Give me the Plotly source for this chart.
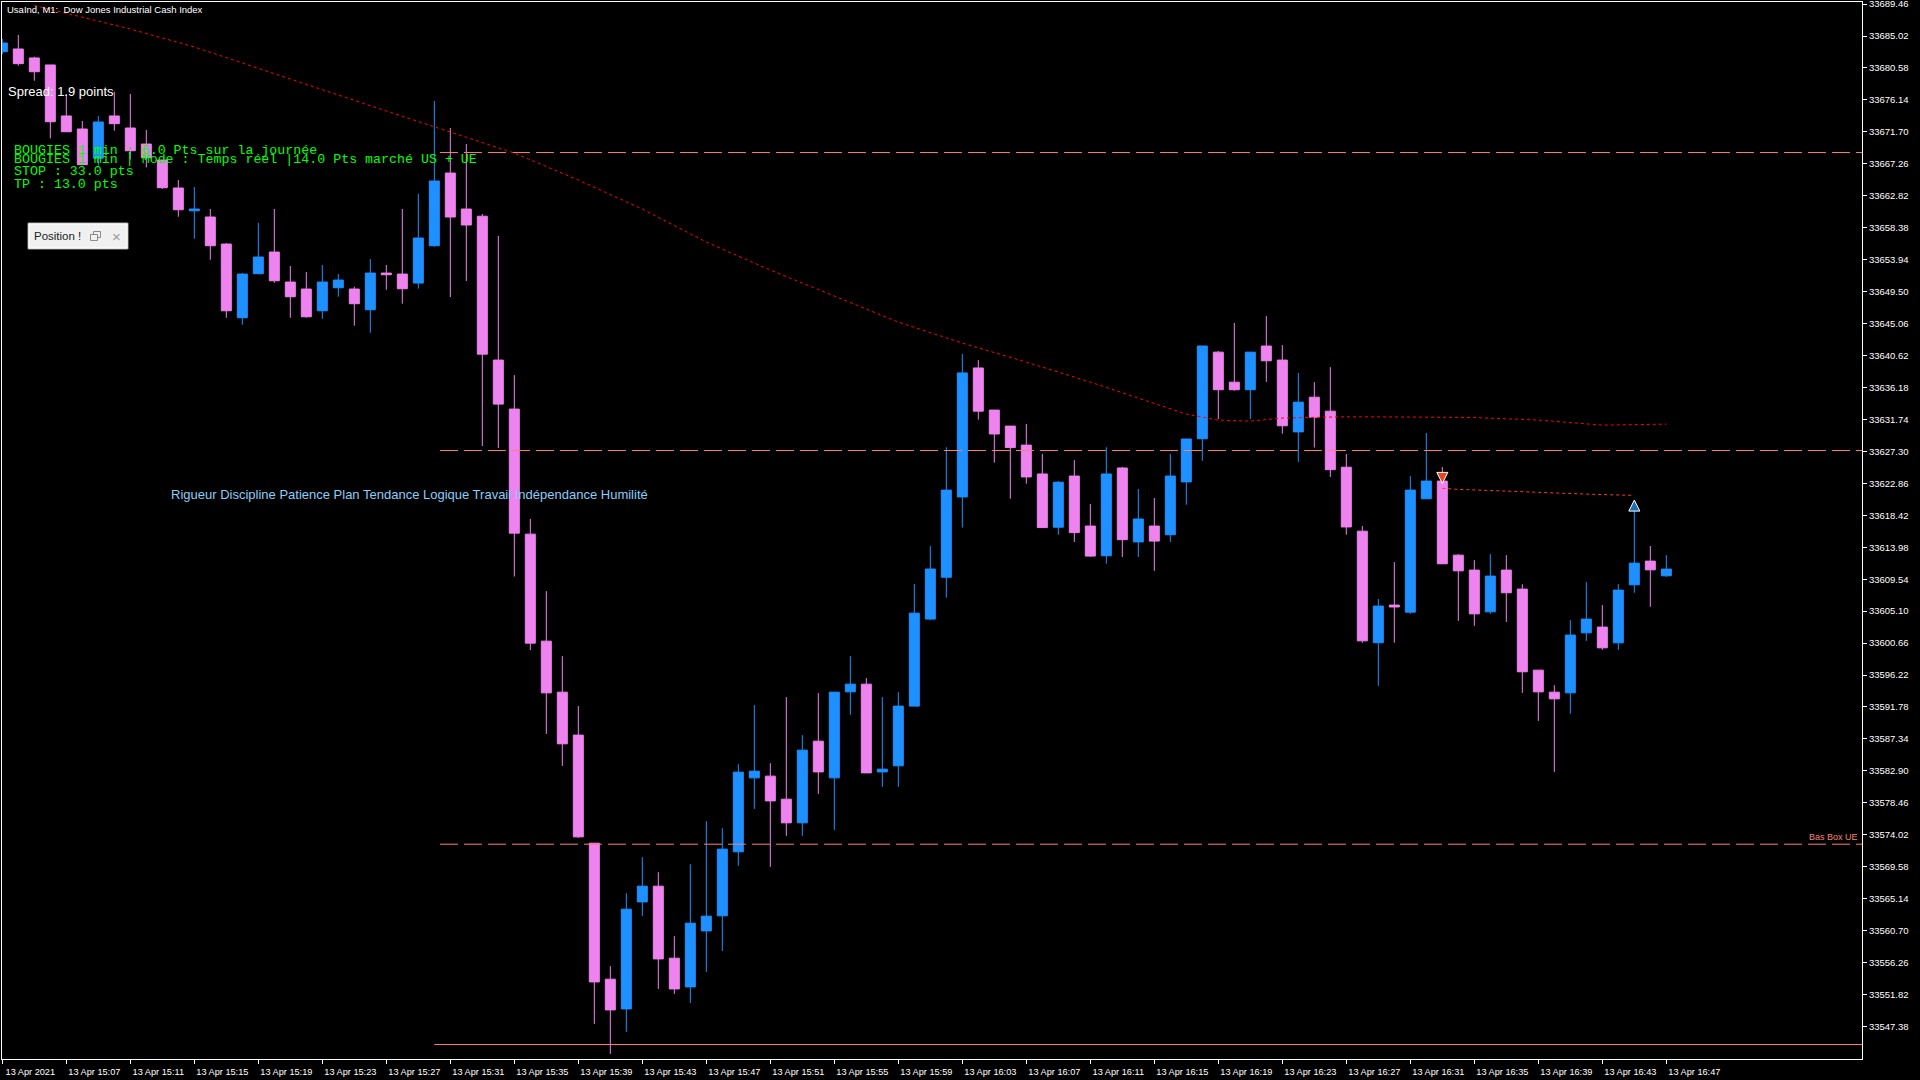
import plotly.graph_objects as go

# ---------------- data ----------------
bar_index = list(range(105))  # one-minute bars, 13 Apr 2021 15:03 .. 16:47

opens = [33682.84, 33683.22, 33681.97, 33681.00, 33673.91, 33672.10, 33668.03, 33673.91, 33672.24, 33670.01,
         33667.79, 33663.90, 33660.74, 33659.87, 33656.11, 33645.87, 33651.99, 33655.00, 33650.83, 33649.86,
         33646.84, 33650.04, 33649.86, 33646.98, 33652.08, 33651.94, 33650.69, 33655.88, 33665.98, 33660.98,
         33659.98, 33639.99, 33633.18, 33615.80, 33600.93, 33593.84, 33587.87, 33572.85, 33553.95, 33549.82,
         33564.69, 33566.88, 33556.87, 33552.88, 33560.66, 33562.75, 33571.65, 33581.93, 33582.17, 33578.97,
         33575.68, 33587.03, 33581.93, 33593.88, 33594.95, 33582.76, 33583.60, 33591.90, 33604.00, 33609.81,
         33620.97, 33638.89, 33633.04, 33630.81, 33628.17, 33624.16, 33616.76, 33623.87, 33616.92, 33612.79,
         33624.99, 33614.72, 33616.92, 33615.72, 33623.06, 33629.06, 33641.09, 33636.92, 33635.87, 33641.94,
         33639.99, 33630.01, 33634.83, 33632.89, 33625.10, 33616.21, 33600.71, 33605.94, 33604.96, 33620.71,
         33623.17, 33612.88, 33610.80, 33605.00, 33610.80, 33608.16, 33596.90, 33593.84, 33593.74, 33602.08,
         33602.88, 33600.69, 33608.76, 33612.05, 33610.01]
highs = [33684.60, 33685.17, 33682.15, 33681.00, 33676.92, 33673.21, 33673.91, 33677.28, 33676.96, 33671.96,
         33667.79, 33665.01, 33664.04, 33660.98, 33656.25, 33652.08, 33659.07, 33660.98, 33653.06, 33652.22,
         33653.20, 33651.94, 33650.18, 33654.03, 33653.20, 33660.98, 33663.09, 33676.00, 33672.24, 33670.01,
         33660.28, 33657.25, 33637.90, 33617.92, 33607.88, 33598.85, 33591.90, 33572.85, 33555.76, 33565.90,
         33570.91, 33568.82, 33559.93, 33569.93, 33575.91, 33574.94, 33583.83, 33592.03, 33583.97, 33593.15,
         33587.87, 33593.70, 33593.84, 33598.85, 33595.79, 33593.15, 33593.84, 33608.87, 33614.14, 33627.88,
         33640.84, 33639.99, 33633.04, 33630.81, 33631.11, 33626.94, 33623.17, 33626.09, 33619.99, 33627.88,
         33625.14, 33622.07, 33620.82, 33626.94, 33629.02, 33641.94, 33641.24, 33645.15, 33641.09, 33646.11,
         33642.07, 33638.20, 33636.92, 33639.00, 33626.94, 33616.92, 33606.78, 33611.90, 33623.87, 33629.84,
         33625.12, 33613.02, 33612.19, 33613.02, 33612.88, 33608.85, 33596.90, 33594.81, 33603.85, 33609.13,
         33605.94, 33608.85, 33619.79, 33614.14, 33612.88]
lows = [33682.50, 33680.90, 33678.81, 33670.81, 33671.72, 33667.14, 33667.00, 33671.86, 33667.89, 33666.77,
        33663.76, 33659.91, 33656.85, 33653.93, 33645.87, 33644.90, 33651.99, 33650.73, 33645.87, 33645.87,
        33645.73, 33648.79, 33644.76, 33643.78, 33649.76, 33647.82, 33649.93, 33655.75, 33648.75, 33650.97,
        33628.04, 33627.77, 33609.91, 33599.68, 33588.05, 33583.60, 33573.59, 33547.73, 33543.57, 33546.62,
        33562.75, 33552.60, 33551.91, 33550.65, 33554.96, 33557.88, 33569.70, 33577.62, 33569.56, 33573.87,
        33573.87, 33579.71, 33574.70, 33590.69, 33582.62, 33580.68, 33580.68, 33591.90, 33603.85, 33606.98,
        33616.71, 33631.71, 33625.74, 33620.72, 33622.81, 33616.71, 33615.72, 33614.72, 33612.63, 33611.69,
        33612.63, 33612.63, 33610.70, 33614.72, 33619.89, 33625.99, 33631.80, 33635.72, 33631.80, 33636.96,
        33629.76, 33625.84, 33627.83, 33623.75, 33615.72, 33600.71, 33594.72, 33600.71, 33604.72, 33620.71,
        33611.68, 33603.75, 33603.06, 33604.72, 33603.61, 33593.74, 33589.85, 33582.76, 33590.83, 33600.97,
        33599.72, 33599.72, 33607.65, 33605.70, 33609.87]
closes = [33684.05, 33681.18, 33680.06, 33673.11, 33671.72, 33667.14, 33673.07, 33672.84, 33669.08, 33668.11,
          33663.94, 33660.88, 33660.98, 33655.88, 33646.84, 33651.94, 33654.31, 33651.01, 33648.79, 33646.01,
          33650.83, 33651.11, 33647.82, 33652.08, 33651.85, 33649.90, 33656.95, 33664.87, 33659.87, 33658.76,
          33640.81, 33633.87, 33615.94, 33600.65, 33593.74, 33586.66, 33573.73, 33553.57, 33549.68, 33563.68,
          33566.88, 33556.77, 33552.60, 33561.73, 33562.71, 33572.02, 33582.72, 33582.86, 33578.73, 33575.68,
          33585.78, 33582.76, 33593.84, 33594.95, 33582.62, 33583.14, 33591.90, 33604.82, 33610.95, 33621.92,
          33638.20, 33632.89, 33629.72, 33627.83, 33623.75, 33616.71, 33623.02, 33616.01, 33612.75, 33624.16,
          33615.03, 33617.90, 33614.83, 33623.87, 33629.02, 33641.94, 33635.87, 33635.87, 33641.09, 33639.89,
          33630.86, 33634.14, 33632.05, 33624.76, 33616.80, 33600.97, 33605.80, 33605.68, 33621.92, 33623.17,
          33611.68, 33610.70, 33604.72, 33609.97, 33607.65, 33596.67, 33593.88, 33592.91, 33601.77, 33603.99,
          33600.00, 33608.02, 33611.77, 33610.84, 33610.94]

# moving average (red dotted), read at selected bars
ma_index = [2, 5, 8, 12, 16, 20, 24, 28, 32, 36, 40, 44, 48, 52, 56, 60, 64, 68, 72, 74, 76, 78, 80,
            84, 88, 92, 96, 100, 104]
ma_values = [33689.27, 33687.60, 33686.00, 33683.50, 33680.51, 33677.52, 33674.60, 33671.68, 33668.76,
             33665.01, 33660.98, 33656.39, 33652.50, 33648.89, 33645.27, 33642.35, 33639.71, 33636.93,
             33634.01, 33632.48, 33631.65, 33631.51, 33631.93, 33632.11, 33632.07, 33632.00, 33631.65,
             33630.95, 33631.09]

# trade line (sell -> buy)
trade_index = [90, 91, 94, 96, 99, 102]
trade_values = [33622.16, 33622.02, 33621.78, 33621.60, 33621.36, 33621.18]
sell_arrow = (90, 33622.85)
buy_arrow = (102, 33620.53)

# horizontal levels
dashed_start = 27.35
solid_start = 27.0
haut_box_level = 33668.83
mid_box_level = 33627.42
bas_box_ue_level = 33572.71
low_solid_level = 33544.87

# axis labels
x_tick_index = [0, 4, 8, 12, 16, 20, 24, 28, 32, 36, 40, 44, 48, 52, 56, 60, 64, 68, 72, 76, 80, 84, 88,
                92, 96, 100, 104]
x_tick_labels = ["13 Apr 2021", "13 Apr 15:07", "13 Apr 15:11", "13 Apr 15:15", "13 Apr 15:19",
                 "13 Apr 15:23", "13 Apr 15:27", "13 Apr 15:31", "13 Apr 15:35", "13 Apr 15:39",
                 "13 Apr 15:43", "13 Apr 15:47", "13 Apr 15:51", "13 Apr 15:55", "13 Apr 15:59",
                 "13 Apr 16:03", "13 Apr 16:07", "13 Apr 16:11", "13 Apr 16:15", "13 Apr 16:19",
                 "13 Apr 16:23", "13 Apr 16:27", "13 Apr 16:31", "13 Apr 16:35", "13 Apr 16:39",
                 "13 Apr 16:43", "13 Apr 16:47"]
y_tick_labels = ["33689.46", "33685.02", "33680.58", "33676.14", "33671.70", "33667.26", "33662.82",
                 "33658.38", "33653.94", "33649.50", "33645.06", "33640.62", "33636.18", "33631.74",
                 "33627.30", "33622.86", "33618.42", "33613.98", "33609.54", "33605.10", "33600.66",
                 "33596.22", "33591.78", "33587.34", "33582.90", "33578.46", "33574.02", "33569.58",
                 "33565.14", "33560.70", "33556.26", "33551.82", "33547.38"]

# ---------------- figure ----------------
W, H = 1920, 1080
X0, X1, Y0, Y1 = 2, 1862, 2, 1059
def fx(px):
    return (px - X0) / (X1 - X0)
def fy(py):
    return 1 - (py - Y0) / (Y1 - Y0)

BULL = "#1E90FF"
BEAR = "#EE82EE"
SALMON = "#FA8072"

fig = go.Figure()

fig.add_trace(go.Candlestick(
    x=bar_index, open=opens, high=highs, low=lows, close=closes,
    increasing=dict(line=dict(color=BULL, width=1), fillcolor=BULL),
    decreasing=dict(line=dict(color=BEAR, width=1), fillcolor=BEAR),
    whiskerwidth=0, hoverinfo="skip", showlegend=False))

x_end = 116.23
for lvl in (haut_box_level, mid_box_level, bas_box_ue_level):
    fig.add_trace(go.Scatter(x=[dashed_start, x_end], y=[lvl, lvl], mode="lines",
                             line=dict(color=SALMON, width=1, dash="18px,6px"),
                             hoverinfo="skip", showlegend=False))
fig.add_trace(go.Scatter(x=[solid_start, x_end], y=[low_solid_level, low_solid_level], mode="lines",
                         line=dict(color=SALMON, width=1), hoverinfo="skip", showlegend=False))

fig.add_trace(go.Scatter(x=ma_index, y=ma_values, mode="lines",
                         line=dict(color="#FF0000", width=1, dash="3px,3px"),
                         hoverinfo="skip", showlegend=False))
fig.add_trace(go.Scatter(x=trade_index, y=trade_values, mode="lines",
                         line=dict(color="#FF3C1E", width=1, dash="3px,3px"),
                         hoverinfo="skip", showlegend=False))
fig.add_trace(go.Scatter(x=[sell_arrow[0]], y=[sell_arrow[1]], mode="markers",
                         marker=dict(symbol="arrow-down", size=11, color="#E8461E",
                                     line=dict(color="white", width=1)),
                         hoverinfo="skip", showlegend=False))
fig.add_trace(go.Scatter(x=[buy_arrow[0]], y=[buy_arrow[1]], mode="markers",
                         marker=dict(symbol="arrow-up", size=11, color="#1C6EB8",
                                     line=dict(color="white", width=1)),
                         hoverinfo="skip", showlegend=False))

annotations = []
def txt(text, x, y, size, color, family="Liberation Sans, Arial", xanchor="left"):
    annotations.append(dict(text=text, x=fx(x), y=fy(y), xref="paper", yref="paper",
                            xanchor=xanchor, yanchor="middle", showarrow=False,
                            font=dict(size=size, color=color, family=family)))

txt("UsaInd, M1:  Dow Jones Industrial Cash Index", 5, 9, 9.5, "white")
txt("Spread: 1.9 points", 6, 91, 13, "white")
mono = "Liberation Mono, Courier New, monospace"
txt("BOUGIES 1 min : 6.0 Pts sur la journée", 12, 150, 13.3, "#00FF00", mono)
txt("BOUGIES 1 min | Mode : Temps réel |14.0 Pts marché US + UE", 12, 160, 13.3, "#00FF00", mono)
txt("STOP : 33.0 pts", 12, 172, 13.3, "#00FF00", mono)
txt("TP : 13.0 pts", 12, 184, 13.3, "#00FF00", mono)
txt("Rigueur Discipline Patience Plan Tendance Logique Travail Indépendance Humilité",
    169, 494.5, 13, "#87CEFA")
txt("Bas Box UE", 1860, 837, 9, SALMON, xanchor="right")
txt("Position !", 32, 236, 11.5, "#222222")
txt("×", 110, 236, 15, "#9A9A9A")

shapes = [
    dict(type="rect", xref="paper", yref="paper", x0=fx(28), x1=fx(128), y0=fy(249), y1=fy(223),
         fillcolor="#F0F0F0", line=dict(color="#A0A0A0", width=1)),
    dict(type="rect", xref="paper", yref="paper", x0=fx(29), x1=fx(127), y0=fy(248), y1=fy(224),
         fillcolor="rgba(0,0,0,0)", line=dict(color="#FFFFFF", width=1)),
    dict(type="rect", xref="paper", yref="paper", x0=fx(93.5), x1=fx(100.5), y0=fy(237.5), y1=fy(231.5),
         fillcolor="#F0F0F0", line=dict(color="#8A8A8A", width=1)),
    dict(type="rect", xref="paper", yref="paper", x0=fx(90.5), x1=fx(97.5), y0=fy(240.5), y1=fy(234.5),
         fillcolor="#F0F0F0", line=dict(color="#8A8A8A", width=1)),
]

fig.update_layout(
    width=W, height=H,
    margin=dict(l=X0, r=W - X1, t=Y0, b=H - Y1, pad=0, autoexpand=False),
    paper_bgcolor="black", plot_bgcolor="black",
    showlegend=False, boxgap=0.375, boxgroupgap=0,
    annotations=annotations, shapes=shapes,
    xaxis=dict(range=[-0.02, x_end], showgrid=False, zeroline=False, automargin=False,
               showline=True, linecolor="white", linewidth=1, mirror=True,
               ticks="outside", ticklen=4, tickcolor="white", tickwidth=1,
               tickvals=x_tick_index, ticktext=x_tick_labels, ticklabelshift=28,
               ticklabeloverflow="allow",
               tickfont=dict(family="Liberation Sans, Arial", size=9.2, color="white"),
               rangeslider=dict(visible=False), fixedrange=True),
    yaxis=dict(range=[33542.86, 33689.75], side="right", showgrid=False, zeroline=False,
               automargin=False,
               showline=True, linecolor="white", linewidth=1, mirror=True,
               ticks="outside", ticklen=4, tickcolor="white", tickwidth=1,
               tickvals=[float(v) for v in y_tick_labels], ticktext=y_tick_labels,
               ticklabeloverflow="allow",
               tickfont=dict(family="Liberation Sans, Arial", size=9.5, color="white"),
               fixedrange=True),
)

fig.write_html("out.html", config={"displayModeBar": False},
               post_script="document.body.style.margin='0';document.body.style.overflow='hidden';document.body.style.background='black';")
